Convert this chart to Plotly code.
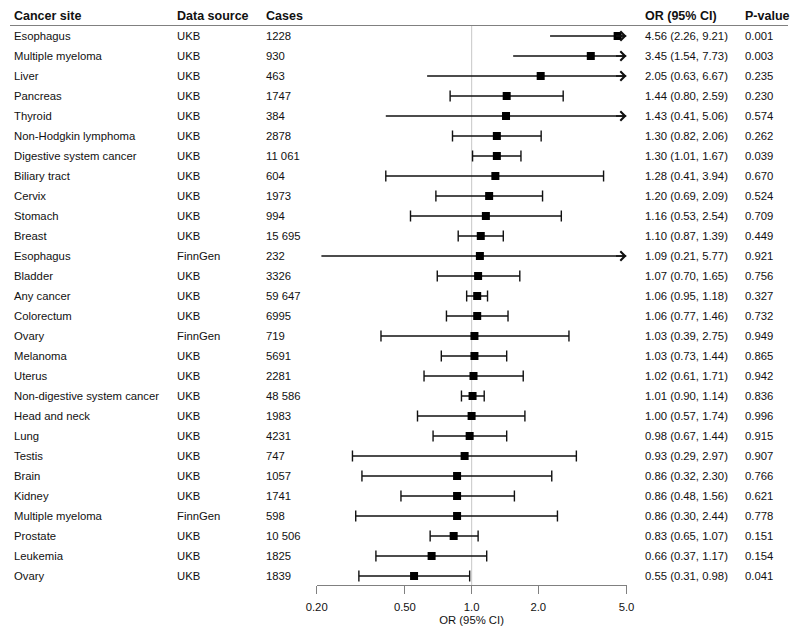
import numpy as np
import plotly.graph_objects as go

sites = ["Esophagus", "Multiple myeloma", "Liver", "Pancreas", "Thyroid", "Non-Hodgkin lymphoma",
         "Digestive system cancer", "Biliary tract", "Cervix", "Stomach", "Breast", "Esophagus",
         "Bladder", "Any cancer", "Colorectum", "Ovary", "Melanoma", "Uterus",
         "Non-digestive system cancer", "Head and neck", "Lung", "Testis", "Brain", "Kidney",
         "Multiple myeloma", "Prostate", "Leukemia", "Ovary"]
sources = ["UKB", "UKB", "UKB", "UKB", "UKB", "UKB", "UKB", "UKB", "UKB", "UKB", "UKB", "FinnGen",
           "UKB", "UKB", "UKB", "FinnGen", "UKB", "UKB", "UKB", "UKB", "UKB", "UKB", "UKB", "UKB",
           "FinnGen", "UKB", "UKB", "UKB"]
cases = ["1228", "930", "463", "1747", "384", "2878", "11 061", "604", "1973", "994", "15 695", "232",
         "3326", "59 647", "6995", "719", "5691", "2281", "48 586", "1983", "4231", "747", "1057", "1741",
         "598", "10 506", "1825", "1839"]
or_vals = [4.56, 3.45, 2.05, 1.44, 1.43, 1.30, 1.30, 1.28, 1.20, 1.16, 1.10, 1.09, 1.07, 1.06, 1.06,
           1.03, 1.03, 1.02, 1.01, 1.00, 0.98, 0.93, 0.86, 0.86, 0.86, 0.83, 0.66, 0.55]
ci_low = [2.26, 1.54, 0.63, 0.80, 0.41, 0.82, 1.01, 0.41, 0.69, 0.53, 0.87, 0.21, 0.70, 0.95, 0.77,
          0.39, 0.73, 0.61, 0.90, 0.57, 0.67, 0.29, 0.32, 0.48, 0.30, 0.65, 0.37, 0.31]
ci_high = [9.21, 7.73, 6.67, 2.59, 5.06, 2.06, 1.67, 3.94, 2.09, 2.54, 1.39, 5.77, 1.65, 1.18, 1.46,
           2.75, 1.44, 1.71, 1.14, 1.74, 1.44, 2.97, 2.30, 1.56, 2.44, 1.07, 1.17, 0.98]
p_vals = ["0.001", "0.003", "0.235", "0.230", "0.574", "0.262", "0.039", "0.670", "0.524", "0.709",
          "0.449", "0.921", "0.756", "0.327", "0.732", "0.949", "0.865", "0.942", "0.836", "0.996",
          "0.915", "0.907", "0.766", "0.621", "0.778", "0.151", "0.154", "0.041"]
tick_vals = [0.2, 0.5, 1.0, 2.0, 5.0]
tick_text = ["0.20", "0.50", "1.0", "2.0", "5.0"]
headers = ["Cancer site", "Data source", "Cases", "OR (95% CI)", "P-value"]

W, H = 800, 639
OFF = 8.0  # page body margin compensation (px)
XMIN, XMAX = 0.2, 5.0
ROW_PX = 20.0
TOP_PX = 36.0 - OFF
AXIS_PX = 585.0 - OFF
ymax = TOP_PX / ROW_PX
ymin = ymax - AXIS_PX / ROW_PX
FONT = "Liberation Sans, Arial, sans-serif"
FS = 11.3
col_x = [12 - OFF, 175 - OFF, 264 - OFF, 643 - OFF, 743 - OFF]
hdr_y = ymax - (16 - OFF - 0) / ROW_PX + (TOP_PX - TOP_PX) / ROW_PX
hdr_y = ymax - ((16 - OFF) - TOP_PX + TOP_PX) / ROW_PX
hdr_line_v = ymax - (25.5 - OFF) / ROW_PX

fig = go.Figure()
n = len(sites)
ys = [-i for i in range(n)]

# reference line at OR = 1
fig.add_trace(go.Scatter(x=[1.0, 1.0], y=[hdr_line_v, ymin], mode="lines",
                         line=dict(color="#d0d0d0", width=1.2), hoverinfo="skip", showlegend=False))

for i in range(n):
    y = ys[i]
    lo, hi = ci_low[i], ci_high[i]
    hi_c = min(hi, XMAX)
    fig.add_trace(go.Scatter(x=[lo, hi_c], y=[y, y], mode="lines",
                             line=dict(color="#111111", width=1.4), hoverinfo="skip", showlegend=False))
    if hi > XMAX:
        fig.add_annotation(x=np.log10(XMAX), y=y, xref="x", yref="y", ax=-12, ay=0,
                           axref="pixel", ayref="pixel", showarrow=True, arrowhead=4,
                           arrowsize=1.3, arrowwidth=1.4, arrowcolor="#111111", text="")
    else:
        fig.add_trace(go.Scatter(x=[lo, hi], y=[y, y], mode="markers",
                                 marker=dict(symbol="line-ns", size=8,
                                             line=dict(color="#111111", width=1.4)),
                                 hoverinfo="skip", showlegend=False))

fig.add_trace(go.Scatter(x=or_vals, y=ys, mode="markers",
                         marker=dict(symbol="square", size=8, color="#000000"),
                         hoverinfo="skip", showlegend=False))

# header
for j, h in enumerate(headers):
    fig.add_annotation(x=col_x[j] / W, y=hdr_y, xref="paper", yref="y",
                       text="<b>%s</b>" % h, showarrow=False, xanchor="left", yanchor="middle",
                       font=dict(family=FONT, size=12.5, color="#111111"))
fig.add_shape(type="line", xref="paper", yref="y", x0=(10 - OFF) / W, x1=(788 - OFF) / W,
              y0=hdr_line_v, y1=hdr_line_v, line=dict(color="#808080", width=1.2))

for i in range(n):
    y = ys[i]
    or_txt = "%.2f (%.2f, %.2f)" % (or_vals[i], ci_low[i], ci_high[i])
    for j, t in enumerate([sites[i], sources[i], cases[i], or_txt, p_vals[i]]):
        fig.add_annotation(x=col_x[j] / W, y=y, xref="paper", yref="y", text=t,
                           showarrow=False, xanchor="left", yanchor="middle",
                           font=dict(family=FONT, size=FS, color="#111111"))

fig.update_layout(
    width=W, height=H, template="none",
    margin=dict(l=0, r=0, t=0, b=0, autoexpand=False),
    paper_bgcolor="white", plot_bgcolor="white",
    xaxis=dict(type="log", range=[np.log10(XMIN), np.log10(XMAX)],
               domain=[(316.7 - OFF) / W, (626.5 - OFF) / W], automargin=False,
               showgrid=False, zeroline=False, showline=True, linecolor="#808080", linewidth=1.2,
               ticks="outside", ticklen=8, tickcolor="#808080", tickwidth=1.2,
               tickvals=tick_vals, ticktext=tick_text, ticklabelstandoff=3,
               tickfont=dict(family=FONT, size=FS, color="#111111"),
               title=dict(text="OR (95% CI)", font=dict(family=FONT, size=FS, color="#111111"),
                          standoff=4),
               anchor="y"),
    yaxis=dict(range=[ymin, ymax], domain=[(H - AXIS_PX) / H, 1], automargin=False,
               showgrid=False, zeroline=False, showline=False, showticklabels=False, ticks=""),
)

fig.write_html("out.html")
